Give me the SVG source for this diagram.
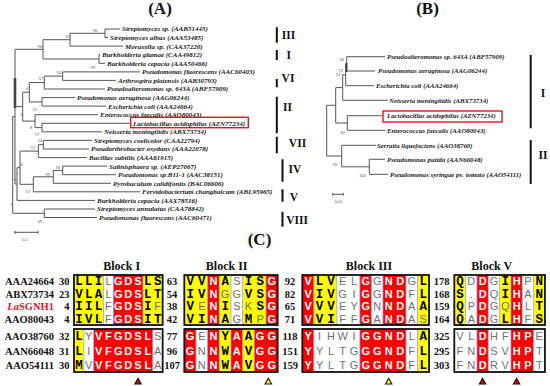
<svg xmlns="http://www.w3.org/2000/svg" width="550" height="386" viewBox="0 0 550 386">
<style>
.title{font-family:"Liberation Serif",serif;font-weight:bold;font-size:17px;text-anchor:middle;fill:#111}
.leaf{font-family:"Liberation Serif",serif;font-weight:bold;font-style:italic;font-size:7px;fill:#222}
.leafb{font-family:"Liberation Serif",serif;font-weight:bold;font-style:italic;font-size:6.8px;fill:#222}
.bs{font-family:"Liberation Sans",sans-serif;font-size:4px;fill:#555;text-anchor:middle}
.br{stroke:#555;stroke-width:1;fill:none}
.rom{font-family:"Liberation Serif",serif;font-weight:bold;font-size:11.5px;text-anchor:middle;fill:#111}
.bar{stroke:#111;stroke-width:2}
.hl{fill:none;stroke:#e8141c;stroke-width:1.4}
.blk{font-family:"Liberation Serif",serif;font-weight:bold;font-size:12px;text-anchor:middle;fill:#111}
.lab{font-family:"Liberation Serif",serif;font-weight:bold;font-size:10.5px;fill:#111;text-anchor:end}
.num{font-family:"Liberation Serif",serif;font-weight:bold;font-size:10.5px;fill:#111;text-anchor:middle}
.ne{text-anchor:end}
.cy{fill:#ffff00}.cr{fill:#ff0000}.cw{fill:#ffffff}
.box{fill:none;stroke:#111;stroke-width:1.8}
.sep{stroke:#9a9ae0;stroke-width:0.8}
.seq{text-anchor:middle}
.a{font-family:"Liberation Mono",monospace;font-weight:bold;font-size:12.5px;fill:#000}
.b{font-family:"Liberation Sans",sans-serif;font-weight:bold;font-size:11px;fill:#fff}
.c{font-family:"Liberation Sans",sans-serif;font-size:11px;fill:#707070}
.tri{stroke:#111;stroke-width:1.1}
</style>
<rect width="550" height="386" fill="#fff"/>
<text class="title" x="160" y="14">(A)</text>
<text class="title" x="427.5" y="14">(B)</text>
<text class="title" x="259.5" y="245">(C)</text>

<g id="connectors">
<path class="br" d="M105,29V37.6M105,29H120M105,37.6H108M70,33.3V46.1M70,33.3H105M70,46.1H123M99,54.7V63.3M99,54.7H100M99,63.3H105M43,39.7V59M43,39.7H70M43,59H99M62.7,71.9V80.4M62.7,71.9H140M62.7,80.4H116M44.3,76.1V89M44.3,76.1H62.7M44.3,89H105M42,97.6V106.1M42,97.6H75M42,106.1H106M29.3,82.6V101.9M29.3,82.6H44.3M29.3,101.9H42M42,123.3V131.8M42,123.3H130.7M42,131.8H102M35,114.7V127.6M35,114.7H98M35,127.6H42M22.7,92.2V121.1M22.7,92.2H29.3M22.7,121.1H35M43.3,140.4V149M43.3,140.4H92M43.3,149H89M38.3,144.7V157.6M38.3,144.7H43.3M38.3,157.6H87M62.7,166.1V174.7M62.7,166.1H107M62.7,174.7H116M53.3,170.4V183.3M53.3,170.4H62.7M53.3,183.3H111M33.3,176.8V191.8M33.3,176.8H53.3M33.3,191.8H140M20,151.1V184.3M20,151.1H38.3M20,184.3H33.3M44.3,209V217.5M44.3,209H95M44.3,217.5H97M15,49.3V184M15,49.3H43M15,106.6H22.7M17,167.7V200.4M17,167.7H20M17,200.4H95M15,184H17M12.7,116.7V213.3M12.7,116.7H15M12.7,213.3H44.3"/>
<path d="M15,78V108" stroke="#444" stroke-width="2.6"/>
<path class="br" d="M346.7,56.7V71M346.7,56.7H385M346.7,71H375M345.7,63.8V85.7M345.7,85.7H374M342.7,74.8V100.3M342.7,74.8H345.7M342.7,100.3H388M347.3,115.7V130.3M347.3,115.7H383M347.3,130.3H385M335.7,87.6V123M335.7,87.6H342.7M335.7,123H347.3M369.3,159.3V174.3M369.3,159.3H385M369.3,174.3H388M341.7,145.3V166.8M341.7,145.3H376M341.7,166.8H369.3M326.7,105.3V156M326.7,105.3H335.7M326.7,156H341.7"/>
<path d="M346.4,63V72" stroke="#444" stroke-width="2"/>
</g>

<g id="scale-bars">
<path class="br" d="M15,232.3H38M15,230.8V233.8M38,230.8V233.8M332.7,194.3H343.3M332.7,193V195.6M343.3,193V195.6"/>
<text class="bs" x="25" y="240.5">0.2</text>
<text class="bs" x="338.3" y="203">0.01</text>
</g>

<g id="bootstrap-a">
<text class="bs" x="95" y="32">96</text>
<text class="bs" x="68" y="37.5">61</text>
<text class="bs" x="40" y="48">96</text>
<text class="bs" x="93" y="68.8">99</text>
<text class="bs" x="59" y="74.4">54</text>
<text class="bs" x="41" y="80">57</text>
<text class="bs" x="27" y="90.4">4</text>
<text class="bs" x="35" y="111.4">21</text>
<text class="bs" x="21.7" y="116.4">6</text>
<text class="bs" x="31" y="129.4">8</text>
<text class="bs" x="37" y="136.4">77</text>
<text class="bs" x="40" y="142.4">54</text>
<text class="bs" x="33" y="149">57</text>
<text class="bs" x="58" y="169">94</text>
<text class="bs" x="48" y="175.7">99</text>
<text class="bs" x="28" y="193">57</text>
<text class="bs" x="21.7" y="166.4">6</text>
<text class="bs" x="15" y="181.4">5</text>
<text class="bs" x="11.7" y="206.4">5</text>
<text class="bs" x="40" y="223">69</text>
</g>
<g id="bootstrap-b">
<text class="bs" x="341.7" y="61.4">18</text>
<text class="bs" x="340.7" y="72.4">73</text>
<text class="bs" x="338.3" y="76.4">52</text>
<text class="bs" x="342.7" y="133.7">60</text>
<text class="bs" x="335" y="165.7">99</text>
<text class="bs" x="362.7" y="177.4">100</text>
</g>

<g id="tree-a-leaves">
<g id="a1"><text class="leaf" x="122" y="31.4">Streptomyces sp. (AAB51445)</text></g>
<g id="a2"><text class="leaf" x="110" y="40">Streptomyces albus (AAA53485)</text></g>
<g id="a3"><text class="leaf" x="125" y="48.5">Moraxella sp. (CAA37220)</text></g>
<g id="a4"><text class="leaf" x="102" y="57.1">Burkholderia glumae (CAA49812)</text></g>
<g id="a5"><text class="leaf" x="107" y="65.7">Burkholderia cepacia (AAA50466)</text></g>
<g id="a6"><text class="leaf" x="142" y="74.3">Pseudomonas fluorescens (AAC60403)</text></g>
<g id="a7"><text class="leaf" x="118" y="82.8">Arthrospira platensis (AAB30793)</text></g>
<g id="a8"><text class="leaf" x="107" y="91.4">Pseudoalteromonas sp. 643A (ABF57909)</text></g>
<g id="a9"><text class="leaf" x="77" y="100">Pseudomonas aeruginosa (AAG06244)</text></g>
<g id="a10"><text class="leaf" x="108" y="108.5">Escherichia coli (AAA24664)</text></g>
<g id="a11"><text class="leaf" x="100" y="117.1">Enterococcus faecalis (AAO80043)</text></g>
<g id="a12"><rect class="hl" x="130.7" y="117.3" width="117.6" height="10.4"/><text class="leaf" x="133" y="125.7">Lactobacillus acidophilus (AZN77234)</text></g>
<g id="a13"><text class="leaf" x="104" y="134.2">Neisseria meningitidis (ABX73734)</text></g>
<g id="a14"><text class="leaf" x="94" y="142.8">Streptomyces coelicolor (CAA22794)</text></g>
<g id="a15"><text class="leaf" x="91" y="151.4">Pseudarthrobacter oxydans (AAA22078)</text></g>
<g id="a16"><text class="leaf" x="89" y="160">Bacillus subtilis (AAA81915)</text></g>
<g id="a17"><text class="leaf" x="109" y="168.5">Salinisphaera sp. (AEP27067)</text></g>
<g id="a18"><text class="leaf" x="118" y="177.1">Pseudomonas sp.B11-1 (AAC38151)</text></g>
<g id="a19"><text class="leaf" x="113" y="185.7">Pyrobaculum calidifontis (BAC06606)</text></g>
<g id="a20"><text class="leaf" x="142" y="194.2">Fervidobacterium changbaicum (ABL95965)</text></g>
<g id="a21"><text class="leaf" x="97" y="202.8">Burkholderia cepacia (AAX78516)</text></g>
<g id="a22"><text class="leaf" x="97" y="211.4">Streptomyces annulatus (CAA78842)</text></g>
<g id="a23"><text class="leaf" x="99" y="219.9">Pseudomonas fluorescens (AAC60471)</text></g>
</g>

<g id="classes-a">
<path class="bar" d="M276.8,27.3V42.7M276.8,50V60M276.8,79V87.3M276.8,96.7V133.3M276.8,136.7V153.3M282.5,159.3V181.7M282.5,189.3V201.7M282.5,211.7V226.7"/>
<text class="rom" x="288.5" y="39.3">III</text>
<text class="rom" x="288.7" y="59">I</text>
<text class="rom" x="288" y="81.7">VI</text>
<text class="rom" x="287.5" y="110.7">II</text>
<text class="rom" x="297.5" y="147">VII</text>
<text class="rom" x="295" y="172.7">IV</text>
<text class="rom" x="294" y="200.7">V</text>
<text class="rom" x="297" y="224">VIII</text>
</g>

<g id="tree-b-leaves">
<g id="b1"><text class="leafb" x="387" y="59">Pseudoalteromonas sp. 643A (ABF57909)</text></g>
<g id="b2"><text class="leafb" x="378" y="73.3">Pseudomonas aeruginosa (AAG06244)</text></g>
<g id="b3"><text class="leafb" x="376" y="88">Escherichia coli (AAA24664)</text></g>
<g id="b4"><text class="leafb" x="389" y="102.6">Neisseria meningitidis (ABX73734)</text></g>
<g id="b5"><rect class="hl" x="383" y="111" width="119" height="11"/><text class="leafb" x="387" y="118">Lactobacillus acidophilus (AZN77234)</text></g>
<g id="b6"><text class="leafb" x="387" y="132.6">Enterococcus faecalis (AAO80043)</text></g>
<g id="b7"><text class="leafb" x="377" y="147.6">Serratia liquefaciens (AAO38760)</text></g>
<g id="b8"><text class="leafb" x="387" y="161.6">Pseudomonas putida (AAN66048)</text></g>
<g id="b9"><text class="leafb" x="390" y="176.6">Pseudomonas syringae pv. tomato (AAO54111)</text></g>
</g>
<g id="classes-b">
<path class="bar" d="M530.7,55V128.3M530.7,140V184"/>
<text class="rom" x="543" y="96.7">I</text>
<text class="rom" x="543" y="159">II</text>
</g>

<g id="alignment-cells">
<rect class="cy" x="74" y="275" width="29.55" height="50"/>
<rect class="cw" x="103.55" y="275" width="9.85" height="50"/>
<rect class="cr" x="113.4" y="275" width="29.55" height="50"/>
<rect class="cy" x="142.95" y="275" width="19.7" height="50"/>
<rect class="cy" x="74" y="329" width="9.85" height="43"/>
<rect class="cw" x="83.85" y="329" width="9.85" height="43"/>
<rect class="cr" x="93.7" y="329" width="59.1" height="43"/>
<rect class="cw" x="152.8" y="329" width="9.85" height="43"/>
<rect class="cy" x="184.3" y="275" width="23.34" height="50"/>
<rect class="cr" x="207.64" y="275" width="11.67" height="50"/>
<rect class="cy" x="219.31" y="275" width="11.67" height="50"/>
<rect class="cw" x="230.98" y="275" width="11.67" height="50"/>
<rect class="cy" x="242.65" y="275" width="23.34" height="50"/>
<rect class="cr" x="265.99" y="275" width="11.67" height="50"/>
<rect class="cr" x="184.3" y="329" width="11.67" height="43"/>
<rect class="cw" x="195.97" y="329" width="11.67" height="43"/>
<rect class="cr" x="207.64" y="329" width="11.67" height="43"/>
<rect class="cy" x="219.31" y="329" width="11.67" height="43"/>
<rect class="cr" x="230.98" y="329" width="11.67" height="43"/>
<rect class="cy" x="242.65" y="329" width="11.67" height="43"/>
<rect class="cr" x="254.32" y="329" width="23.34" height="43"/>
<rect class="cr" x="302.3" y="275" width="11.52" height="50"/>
<rect class="cy" x="313.82" y="275" width="23.04" height="50"/>
<rect class="cw" x="336.86" y="275" width="23.04" height="50"/>
<rect class="cr" x="359.9" y="275" width="11.52" height="50"/>
<rect class="cw" x="371.42" y="275" width="11.52" height="50"/>
<rect class="cr" x="382.94" y="275" width="23.04" height="50"/>
<rect class="cw" x="405.98" y="275" width="11.52" height="50"/>
<rect class="cy" x="417.5" y="275" width="11.52" height="50"/>
<rect class="cr" x="302.3" y="329" width="11.52" height="43"/>
<rect class="cw" x="313.82" y="329" width="46.08" height="43"/>
<rect class="cr" x="359.9" y="329" width="46.08" height="43"/>
<rect class="cw" x="405.98" y="329" width="11.52" height="43"/>
<rect class="cy" x="417.5" y="329" width="11.52" height="43"/>
<rect class="cy" x="454.3" y="275" width="11.33" height="50"/>
<rect class="cw" x="465.63" y="275" width="11.33" height="50"/>
<rect class="cr" x="476.96" y="275" width="11.33" height="50"/>
<rect class="cw" x="488.29" y="275" width="11.33" height="50"/>
<rect class="cy" x="499.62" y="275" width="11.33" height="50"/>
<rect class="cr" x="510.95" y="275" width="11.33" height="50"/>
<rect class="cw" x="522.28" y="275" width="11.33" height="50"/>
<rect class="cy" x="533.61" y="275" width="11.33" height="50"/>
<rect class="cw" x="454.3" y="329" width="22.66" height="43"/>
<rect class="cr" x="476.96" y="329" width="11.33" height="43"/>
<rect class="cw" x="488.29" y="329" width="22.66" height="43"/>
<rect class="cr" x="510.95" y="329" width="22.66" height="43"/>
<rect class="cw" x="533.61" y="329" width="11.33" height="43"/>
<path class="sep" d="M103.55,275V325M113.4,275V325M142.95,275V325M83.85,329V372M93.7,329V372M152.8,329V372M207.64,275V325M219.31,275V325M230.98,275V325M242.65,275V325M265.99,275V325M195.97,329V372M207.64,329V372M219.31,329V372M230.98,329V372M242.65,329V372M254.32,329V372M313.82,275V325M336.86,275V325M359.9,275V325M371.42,275V325M382.94,275V325M405.98,275V325M417.5,275V325M313.82,329V372M359.9,329V372M405.98,329V372M417.5,329V372M465.63,275V325M476.96,275V325M488.29,275V325M499.62,275V325M510.95,275V325M522.28,275V325M533.61,275V325M476.96,329V372M488.29,329V372M510.95,329V372M533.61,329V372"/>
<rect class="box" x="74" y="275" width="88.65" height="50"/>
<rect class="box" x="74" y="329" width="88.65" height="43"/>
<rect class="box" x="184.3" y="275" width="93.36" height="50"/>
<rect class="box" x="184.3" y="329" width="93.36" height="43"/>
<rect class="box" x="302.3" y="275" width="126.72" height="50"/>
<rect class="box" x="302.3" y="329" width="126.72" height="43"/>
<rect class="box" x="454.3" y="275" width="90.64" height="50"/>
<rect class="box" x="454.3" y="329" width="90.64" height="43"/>
</g>

<g id="block-titles">
<text class="blk" x="121.7" y="270">Block I</text>
<text class="blk" x="226.7" y="270">Block II</text>
<text class="blk" x="369" y="270">Block III</text>
<text class="blk" x="491.7" y="270">Block V</text>
</g>

<g id="row-AAA24664">
<text class="lab" x="54" y="285.3">AAA24664</text>
<text class="num ne" x="69.5" y="285.3">30</text>
<text class="num" x="172" y="285.3">63</text>
<text class="num" x="290" y="285.3">92</text>
<text class="num" x="441.7" y="285.3">178</text>
<text class="seq" y="285.3"><tspan class="a" x="78.93">L</tspan><tspan class="a" x="88.78">L</tspan><tspan class="a" x="98.63">I</tspan><tspan class="c" x="108.48">L</tspan><tspan class="b" x="118.33">G</tspan><tspan class="b" x="128.18">D</tspan><tspan class="b" x="138.03">S</tspan><tspan class="a" x="147.88">L</tspan><tspan class="a" x="157.73">S</tspan></text>
<text class="seq" y="285.3"><tspan class="a" x="190.14">V</tspan><tspan class="a" x="201.8">V</tspan><tspan class="b" x="213.47">N</tspan><tspan class="a" x="225.14">A</tspan><tspan class="c" x="236.8">S</tspan><tspan class="a" x="248.47">I</tspan><tspan class="a" x="260.14">S</tspan><tspan class="b" x="271.8">G</tspan></text>
<text class="seq" y="285.3"><tspan class="b" x="308.06">V</tspan><tspan class="a" x="319.58">L</tspan><tspan class="a" x="331.1">V</tspan><tspan class="c" x="342.62">E</tspan><tspan class="c" x="354.14">L</tspan><tspan class="b" x="365.66">G</tspan><tspan class="c" x="377.18">G</tspan><tspan class="b" x="388.7">N</tspan><tspan class="b" x="400.22">D</tspan><tspan class="c" x="411.74">G</tspan><tspan class="a" x="423.26">L</tspan></text>
<text class="seq" y="285.3"><tspan class="a" x="459.97">Q</tspan><tspan class="c" x="471.3">D</tspan><tspan class="b" x="482.63">D</tspan><tspan class="c" x="493.96">G</tspan><tspan class="a" x="505.29">I</tspan><tspan class="b" x="516.62">H</tspan><tspan class="c" x="527.95">P</tspan><tspan class="a" x="539.28">N</tspan></text>
</g>
<g id="row-ABX73734">
<text class="lab" x="54" y="297.8">ABX73734</text>
<text class="num ne" x="69.5" y="297.8">23</text>
<text class="num" x="172" y="297.8">54</text>
<text class="num" x="290" y="297.8">82</text>
<text class="num" x="441.7" y="297.8">168</text>
<text class="seq" y="297.8"><tspan class="a" x="78.93">V</tspan><tspan class="a" x="88.78">L</tspan><tspan class="a" x="98.63">A</tspan><tspan class="c" x="108.48">L</tspan><tspan class="b" x="118.33">G</tspan><tspan class="b" x="128.18">D</tspan><tspan class="b" x="138.03">S</tspan><tspan class="a" x="147.88">L</tspan><tspan class="a" x="157.73">T</tspan></text>
<text class="seq" y="297.8"><tspan class="a" x="190.14">I</tspan><tspan class="a" x="201.8">V</tspan><tspan class="b" x="213.47">N</tspan><tspan class="c" x="225.14">G</tspan><tspan class="c" x="236.8">G</tspan><tspan class="a" x="248.47">V</tspan><tspan class="a" x="260.14">S</tspan><tspan class="b" x="271.8">G</tspan></text>
<text class="seq" y="297.8"><tspan class="b" x="308.06">V</tspan><tspan class="a" x="319.58">I</tspan><tspan class="a" x="331.1">V</tspan><tspan class="c" x="342.62">G</tspan><tspan class="c" x="354.14">I</tspan><tspan class="b" x="365.66">G</tspan><tspan class="c" x="377.18">G</tspan><tspan class="b" x="388.7">N</tspan><tspan class="b" x="400.22">D</tspan><tspan class="c" x="411.74">F</tspan><tspan class="a" x="423.26">L</tspan></text>
<text class="seq" y="297.8"><tspan class="a" x="459.97">S</tspan><tspan class="c" x="471.3">.</tspan><tspan class="b" x="482.63">D</tspan><tspan class="c" x="493.96">Q</tspan><tspan class="a" x="505.29">I</tspan><tspan class="b" x="516.62">H</tspan><tspan class="c" x="527.95">A</tspan><tspan class="a" x="539.28">N</tspan></text>
</g>
<g id="row-LaSGNH1">
<text class="lab" x="54" y="310.3" style="fill:#e8141c"><tspan font-style="italic">La</tspan>SGNH1</text>
<text class="num ne" x="69.5" y="310.3">4</text>
<text class="num" x="172" y="310.3">38</text>
<text class="num" x="290" y="310.3">65</text>
<text class="num" x="441.7" y="310.3">159</text>
<text class="seq" y="310.3"><tspan class="a" x="78.93">I</tspan><tspan class="a" x="88.78">I</tspan><tspan class="a" x="98.63">L</tspan><tspan class="c" x="108.48">F</tspan><tspan class="b" x="118.33">G</tspan><tspan class="b" x="128.18">D</tspan><tspan class="b" x="138.03">S</tspan><tspan class="a" x="147.88">I</tspan><tspan class="c" x="157.73">F</tspan></text>
<text class="seq" y="310.3"><tspan class="a" x="190.14">V</tspan><tspan class="c" x="201.8">E</tspan><tspan class="b" x="213.47">N</tspan><tspan class="a" x="225.14">I</tspan><tspan class="c" x="236.8">S</tspan><tspan class="c" x="248.47">K</tspan><tspan class="a" x="260.14">S</tspan><tspan class="b" x="271.8">G</tspan></text>
<text class="seq" y="310.3"><tspan class="b" x="308.06">V</tspan><tspan class="a" x="319.58">V</tspan><tspan class="a" x="331.1">V</tspan><tspan class="c" x="342.62">E</tspan><tspan class="c" x="354.14">Y</tspan><tspan class="b" x="365.66">G</tspan><tspan class="c" x="377.18">N</tspan><tspan class="b" x="388.7">N</tspan><tspan class="b" x="400.22">D</tspan><tspan class="c" x="411.74">A</tspan><tspan class="a" x="423.26">A</tspan></text>
<text class="seq" y="310.3"><tspan class="a" x="459.97">Q</tspan><tspan class="c" x="471.3">P</tspan><tspan class="b" x="482.63">D</tspan><tspan class="c" x="493.96">G</tspan><tspan class="c" x="505.29">Q</tspan><tspan class="b" x="516.62">H</tspan><tspan class="c" x="527.95">L</tspan><tspan class="a" x="539.28">T</tspan></text>
</g>
<g id="row-AAO80043">
<text class="lab" x="54" y="322.8">AAO80043</text>
<text class="num ne" x="69.5" y="322.8">4</text>
<text class="num" x="172" y="322.8">42</text>
<text class="num" x="290" y="322.8">71</text>
<text class="num" x="441.7" y="322.8">164</text>
<text class="seq" y="322.8"><tspan class="a" x="78.93">I</tspan><tspan class="a" x="88.78">V</tspan><tspan class="a" x="98.63">L</tspan><tspan class="c" x="108.48">F</tspan><tspan class="b" x="118.33">G</tspan><tspan class="b" x="128.18">D</tspan><tspan class="b" x="138.03">S</tspan><tspan class="a" x="147.88">I</tspan><tspan class="a" x="157.73">T</tspan></text>
<text class="seq" y="322.8"><tspan class="a" x="190.14">V</tspan><tspan class="a" x="201.8">I</tspan><tspan class="b" x="213.47">N</tspan><tspan class="a" x="225.14">A</tspan><tspan class="c" x="236.8">G</tspan><tspan class="a" x="248.47">M</tspan><tspan class="c" x="260.14">P</tspan><tspan class="b" x="271.8">G</tspan></text>
<text class="seq" y="322.8"><tspan class="b" x="308.06">V</tspan><tspan class="a" x="319.58">V</tspan><tspan class="a" x="331.1">I</tspan><tspan class="c" x="342.62">F</tspan><tspan class="c" x="354.14">F</tspan><tspan class="b" x="365.66">G</tspan><tspan class="c" x="377.18">A</tspan><tspan class="b" x="388.7">N</tspan><tspan class="b" x="400.22">D</tspan><tspan class="c" x="411.74">A</tspan><tspan class="c" x="423.26">S</tspan></text>
<text class="seq" y="322.8"><tspan class="a" x="459.97">Q</tspan><tspan class="c" x="471.3">A</tspan><tspan class="b" x="482.63">D</tspan><tspan class="c" x="493.96">G</tspan><tspan class="a" x="505.29">L</tspan><tspan class="b" x="516.62">H</tspan><tspan class="c" x="527.95">F</tspan><tspan class="a" x="539.28">S</tspan></text>
</g>
<g id="row-AAO38760">
<text class="lab" x="54" y="340.2">AAO38760</text>
<text class="num ne" x="69.5" y="340.2">32</text>
<text class="num" x="172" y="340.2">77</text>
<text class="num" x="290" y="340.2">118</text>
<text class="num" x="441.7" y="340.2">325</text>
<text class="seq" y="340.2"><tspan class="a" x="78.93">L</tspan><tspan class="c" x="88.78">Y</tspan><tspan class="b" x="98.63">V</tspan><tspan class="b" x="108.48">F</tspan><tspan class="b" x="118.33">G</tspan><tspan class="b" x="128.18">D</tspan><tspan class="b" x="138.03">S</tspan><tspan class="b" x="147.88">L</tspan><tspan class="c" x="157.73">S</tspan></text>
<text class="seq" y="340.2"><tspan class="b" x="190.14">G</tspan><tspan class="c" x="201.8">E</tspan><tspan class="b" x="213.47">N</tspan><tspan class="a" x="225.14">Y</tspan><tspan class="b" x="236.8">A</tspan><tspan class="a" x="248.47">A</tspan><tspan class="b" x="260.14">G</tspan><tspan class="b" x="271.8">G</tspan></text>
<text class="seq" y="340.2"><tspan class="b" x="308.06">Y</tspan><tspan class="c" x="319.58">I</tspan><tspan class="c" x="331.1">H</tspan><tspan class="c" x="342.62">W</tspan><tspan class="c" x="354.14">I</tspan><tspan class="b" x="365.66">G</tspan><tspan class="b" x="377.18">G</tspan><tspan class="b" x="388.7">N</tspan><tspan class="b" x="400.22">D</tspan><tspan class="c" x="411.74">L</tspan><tspan class="a" x="423.26">A</tspan></text>
<text class="seq" y="340.2"><tspan class="c" x="459.97">V</tspan><tspan class="c" x="471.3">L</tspan><tspan class="b" x="482.63">D</tspan><tspan class="c" x="493.96">H</tspan><tspan class="c" x="505.29">F</tspan><tspan class="b" x="516.62">H</tspan><tspan class="b" x="527.95">P</tspan><tspan class="c" x="539.28">E</tspan></text>
</g>
<g id="row-AAN66048">
<text class="lab" x="54" y="354.5">AAN66048</text>
<text class="num ne" x="69.5" y="354.5">31</text>
<text class="num" x="172" y="354.5">96</text>
<text class="num" x="290" y="354.5">151</text>
<text class="num" x="441.7" y="354.5">295</text>
<text class="seq" y="354.5"><tspan class="a" x="78.93">L</tspan><tspan class="c" x="88.78">I</tspan><tspan class="b" x="98.63">V</tspan><tspan class="b" x="108.48">F</tspan><tspan class="b" x="118.33">G</tspan><tspan class="b" x="128.18">D</tspan><tspan class="b" x="138.03">S</tspan><tspan class="b" x="147.88">L</tspan><tspan class="c" x="157.73">A</tspan></text>
<text class="seq" y="354.5"><tspan class="b" x="190.14">G</tspan><tspan class="c" x="201.8">N</tspan><tspan class="b" x="213.47">N</tspan><tspan class="a" x="225.14">W</tspan><tspan class="b" x="236.8">A</tspan><tspan class="a" x="248.47">V</tspan><tspan class="b" x="260.14">G</tspan><tspan class="b" x="271.8">G</tspan></text>
<text class="seq" y="354.5"><tspan class="b" x="308.06">Y</tspan><tspan class="c" x="319.58">Y</tspan><tspan class="c" x="331.1">L</tspan><tspan class="c" x="342.62">T</tspan><tspan class="c" x="354.14">G</tspan><tspan class="b" x="365.66">G</tspan><tspan class="b" x="377.18">G</tspan><tspan class="b" x="388.7">N</tspan><tspan class="b" x="400.22">D</tspan><tspan class="c" x="411.74">F</tspan><tspan class="a" x="423.26">L</tspan></text>
<text class="seq" y="354.5"><tspan class="c" x="459.97">F</tspan><tspan class="c" x="471.3">N</tspan><tspan class="b" x="482.63">D</tspan><tspan class="c" x="493.96">S</tspan><tspan class="c" x="505.29">V</tspan><tspan class="b" x="516.62">H</tspan><tspan class="b" x="527.95">P</tspan><tspan class="c" x="539.28">T</tspan></text>
</g>
<g id="row-AAO54111">
<text class="lab" x="54" y="368.8">AAO54111</text>
<text class="num ne" x="69.5" y="368.8">30</text>
<text class="num" x="172" y="368.8">107</text>
<text class="num" x="290" y="368.8">159</text>
<text class="num" x="441.7" y="368.8">303</text>
<text class="seq" y="368.8"><tspan class="a" x="78.93">M</tspan><tspan class="c" x="88.78">V</tspan><tspan class="b" x="98.63">V</tspan><tspan class="b" x="108.48">F</tspan><tspan class="b" x="118.33">G</tspan><tspan class="b" x="128.18">D</tspan><tspan class="b" x="138.03">S</tspan><tspan class="b" x="147.88">L</tspan><tspan class="c" x="157.73">A</tspan></text>
<text class="seq" y="368.8"><tspan class="b" x="190.14">G</tspan><tspan class="c" x="201.8">N</tspan><tspan class="b" x="213.47">N</tspan><tspan class="a" x="225.14">W</tspan><tspan class="b" x="236.8">A</tspan><tspan class="a" x="248.47">V</tspan><tspan class="b" x="260.14">G</tspan><tspan class="b" x="271.8">G</tspan></text>
<text class="seq" y="368.8"><tspan class="b" x="308.06">Y</tspan><tspan class="c" x="319.58">Y</tspan><tspan class="c" x="331.1">L</tspan><tspan class="c" x="342.62">T</tspan><tspan class="c" x="354.14">G</tspan><tspan class="b" x="365.66">G</tspan><tspan class="b" x="377.18">G</tspan><tspan class="b" x="388.7">N</tspan><tspan class="b" x="400.22">D</tspan><tspan class="c" x="411.74">F</tspan><tspan class="a" x="423.26">L</tspan></text>
<text class="seq" y="368.8"><tspan class="c" x="459.97">F</tspan><tspan class="c" x="471.3">N</tspan><tspan class="b" x="482.63">D</tspan><tspan class="c" x="493.96">R</tspan><tspan class="c" x="505.29">V</tspan><tspan class="b" x="516.62">H</tspan><tspan class="b" x="527.95">P</tspan><tspan class="c" x="539.28">T</tspan></text>
</g>

<g id="markers">
<polygon class="tri" fill="#e00000" points="134.8,384 141.2,384 138,378.3"/>
<polygon class="tri" fill="#ffff00" points="265.1,384 271.5,384 268.3,378.3"/>
<polygon class="tri" fill="#ffff00" points="385.5,384 391.9,384 388.7,378.3"/>
<polygon class="tri" fill="#e00000" points="479.4,384 485.8,384 482.6,378.3"/>
<polygon class="tri" fill="#e00000" points="513.4,384 519.8,384 516.6,378.3"/>
</g>
</svg>
